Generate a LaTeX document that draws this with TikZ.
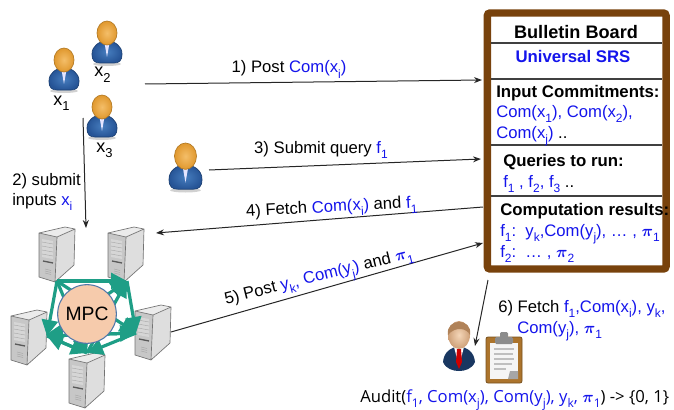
\documentclass[tikz,border=0pt]{standalone}
\usepackage{amsmath,amssymb}
\usepackage{fontspec}
\setmainfont{Liberation Sans}
\newfontfamily\auditfont{Open Sans}
\usetikzlibrary{positioning, arrows.meta, shapes.geometric}

\definecolor{comblue}{RGB}{20,20,235}
\definecolor{boardbrown}{RGB}{120,66,12}
\definecolor{mpcgreen}{RGB}{30,158,134}
\definecolor{mpcpeach}{RGB}{246,203,172}
\definecolor{mpcedge}{RGB}{80,120,170}
\definecolor{suitlight}{RGB}{70,125,190}
\definecolor{suitdark}{RGB}{38,84,150}
\definecolor{headlight}{RGB}{244,190,105}
\definecolor{headdark}{RGB}{224,152,46}
\definecolor{skinlight}{RGB}{244,214,184}
\definecolor{skindark}{RGB}{206,160,120}
\definecolor{hairtan}{RGB}{176,130,88}
\definecolor{clipbrown}{RGB}{172,116,44}

\newcommand{\bl}[1]{\textcolor{comblue}{#1}}
\newcommand{\low}[1]{\raisebox{-.6ex}{\scalebox{.72}{#1}}}
\newcommand{\bpi}{$\boldsymbol{\pi}$}

\tikzset{
  lbl/.style={font=\fontsize{12.5}{14}\selectfont, anchor=base west, inner sep=0pt},
  lblmid/.style={lbl, anchor=base},
  head/.style={lbl, font=\fontsize{12.6}{14}\selectfont\bfseries},
  arr/.style={-{Stealth[length=6pt,width=4.5pt]}, line width=0.75pt, black!85},
  ring/.style={-{Triangle[length=12pt,width=12pt]}, mpcgreen, line width=2.4pt},
  sep/.style={black!75, line width=0.8pt},
  user/.pic={
    \fill[black!18] (15,43) ellipse (14 and 2);
    \path[draw=suitdark!75!black, line width=0.5pt, inner color=suitlight, outer color=suitdark]
      (0,33) .. controls (0,25) and (7,20) .. (15,20) .. controls (23,20) and (30,25) .. (30,33)
      .. controls (30,40) and (27,42) .. (22,42) -- (8,42) .. controls (3,42) and (0,40) .. (0,33) -- cycle;
    \fill[white!90!blue] (12.5,22) -- (17.5,22) -- (15,36) -- cycle;
    \path[draw=headdark!80!black, line width=0.5pt, inner color=headlight, outer color=headdark]
      (15,12) ellipse (10 and 12);
  },
  server/.pic={
    \fill[black!22] (0,6) -- (18,10) -- (16,55) -- (0,50) -- cycle;
    \fill[black!13] (18,10) -- (36,2) -- (35,38) -- (16,55) -- cycle;
    \fill[black!8] (0,6) -- (26,0) -- (36,2) -- (18,10) -- cycle;
    \draw[black!55, line width=0.5pt, line join=round]
      (0,6) -- (26,0) -- (36,2) -- (35,38) -- (16,55) -- (0,50) -- cycle (0,6) -- (18,10) -- (36,2) (18,10) -- (16,55);
    \fill[black!16] (3,12) -- (14,14) -- (14,32) -- (3,30) -- cycle;
    \foreach \yy in {16,20,24,28} \draw[black!35, line width=0.3pt] (3,\yy-1) -- (14,\yy+1);
    \draw[black!65, line width=1pt] (4,34) -- (14,36);
    \foreach \yy in {42,44,46} \draw[black!35, line width=0.3pt] (6,\yy) -- (12,\yy+1.5);
  },
}

\begin{document}
\begin{tikzpicture}[x=0.75pt, y=-0.75pt]
  \useasboundingbox (0,0) rectangle (674,410);

  % Users
  \pic at (49,48) {user};
  \pic at (92,21) {user};
  \pic at (87,95) {user};
  \pic[scale=1.1] at (169,143) {user};
  \node[lbl, font=\fontsize{13.5}{14}\selectfont] (labxa) at (53,105) {x\low{1}};
  \node[lbl, font=\fontsize{13.5}{14}\selectfont] (labxb) at (94,77) {x\low{2}};
  \node[lbl, font=\fontsize{13.5}{14}\selectfont] (labxc) at (96,152) {x\low{3}};

  % Bulletin board
  \node[draw=boardbrown, line width=5.6pt, rounded corners=2pt, minimum width=134pt, minimum height=192pt, inner sep=0pt] (board) at (576.7,141) {};
  \foreach \yy in {43,79,145,196}
    \draw[sep] (491,\yy) -- (662,\yy);
  \node[lblmid, font=\fontsize{13.6}{14}\selectfont\bfseries] (bbtitle) at (576,39) {Bulletin Board};
  \node[lblmid, font=\fontsize{12.6}{14}\selectfont\bfseries] (srs) at (573,63) {\bl{Universal SRS}};
  \node[head] (inputs) at (496,97) {Input Commitments:};
  \node[lbl] (inputsa) at (496,117) {\bl{Com(x\low{1}), Com(x\low{2}),}};
  \node[lbl] (inputsb) at (496,138) {\bl{Com(x\low{j})} ..};
  \node[head] (queries) at (503,166) {Queries to run:};
  \node[lbl] (queriesa) at (503,187) {\bl{f\low{1} , f\low{2}, f\low{3}} ..};
  \node[head] (results) at (500,215) {Computation results:};
  \node[lbl] (resultsa) at (500,236) {\bl{f\low{1}:\ \ y\low{k},Com(y\low{j}), \dots\ , \bpi\low{1}}};
  \node[lbl] (resultsb) at (500,257) {\bl{f\low{2}:\ \ \dots\ , \bpi\low{2}}};

  % Servers and MPC
  \pic at (39,227) {server};
  \pic at (108,227) {server};
  \pic at (135,305) {server};
  \pic at (69,353) {server};
  \pic at (11,310) {server};
  \coordinate (A) at (57,281);
  \coordinate (B) at (127,281);
  \coordinate (C) at (136,333);
  \coordinate (D) at (87,353);
  \coordinate (E) at (47,336);
  \foreach \from/\to in {A/B,A/E,A/C,A/D,B/C,E/B,D/B,E/C,C/D,E/D,D/E,C/E}
    \draw[ring] (\from) -- (\to);
  \node[circle, draw=mpcedge, fill=mpcpeach, line width=0.8pt, minimum size=44pt, inner sep=0pt, font=\fontsize{14.5}{16}\selectfont] (mpc) at (87,314) {MPC};

  % Auditor
  \fill[suitdark!65!black] (443,362) .. controls (444,352) and (450,348) .. (459,346) .. controls (468,348) and (474,352) .. (475,362) .. controls (472,369) and (465,371) .. (459,371) .. controls (453,371) and (446,369) .. (443,362) -- cycle;
  \fill[white] (454,347) -- (464,347) -- (459,366) -- cycle;
  \fill[red!80!black] (457,349) -- (461,349) -- (462,362) -- (459,369) -- (456,362) -- cycle;
  \path[inner color=skinlight, outer color=skindark] (459,335) ellipse (11 and 14);
  \fill[hairtan] (448,335) .. controls (445,318) and (473,317) .. (470,335) .. controls (467,328) and (455,326) .. (448,335) -- cycle;
  \filldraw[fill=clipbrown, draw=clipbrown!70!black, line width=0.6pt, rounded corners=1.5pt] (486,337) rectangle (522,383);
  \fill[black!4] (490,343) rectangle (518,379);
  \fill[black!45, rounded corners=1pt] (495,337) rectangle (513,344);
  \fill[black!45, rounded corners=1pt] (500,332) rectangle (508,338);
  \foreach \yy/\xe in {349/514,354/513,359/514,364/512,369/506}
    \draw[black!25, line width=1pt] (494,\yy) -- (\xe,\yy);
  \fill[black!35] (508,379) -- (518,379) -- (518,371) -- (510,371) -- cycle;

  % Arrows
  \coordinate (usersout) at (145,84);
  \coordinate (boardone) at (482,80);
  \coordinate (querier) at (209,170);
  \coordinate (boardtwo) at (481,159);
  \coordinate (inputfrom) at (83,118);
  \coordinate (inputto) at (86,228);
  \coordinate (boardthree) at (483,207);
  \coordinate (fetchto) at (156,233);
  \coordinate (serverout) at (171,332);
  \coordinate (boardfour) at (483,243);
  \coordinate (boardfive) at (488,280);
  \coordinate (auditto) at (475,346);
  \draw[arr] (usersout) -- (boardone);
  \draw[arr] (querier) -- (boardtwo);
  \draw[arr] (inputfrom) -- (inputto);
  \draw[arr] (boardthree) -- (fetchto);
  \draw[arr] (serverout) -- (boardfour);
  \draw[arr] (boardfive) -- (auditto);

  % Labels
  \node[lblmid] (stepone) at (289,73) {1) Post \bl{Com(x\low{i})}};
  \node[lblmid] (stepthree) at (321,153) {3) Submit query \bl{f\low{1}}};
  \node[lbl] (steptwoa) at (12,185) {2) submit};
  \node[lbl] (steptwob) at (12,205) {inputs \bl{x\low{i}}};
  \node[lblmid, rotate=3] (stepfour) at (332,212) {4) Fetch \bl{Com(x\low{i})} and \bl{f\low{1}}};
  \node[lblmid, rotate=14] (stepfive) at (320,281) {5) Post \bl{y\low{k}, Com(y\low{j})} and \bl{\bpi\low{1}}};
  \node[lbl] (stepsixa) at (498,312) {6) Fetch \bl{f\low{1},Com(x\low{i}), y\low{k},}};
  \node[lbl] (stepsixb) at (517,333) {\bl{Com(y\low{j}), \bpi\low{1}}};
  \node[lbl, font=\auditfont\fontsize{12.5}{14}\selectfont] (audit) at (360,402) {Audit(\bl{f\low{1}, Com(x\low{j}), Com(y\low{j}), y\low{k}, \bpi\low{1}}) -> \{0, 1\}};
\end{tikzpicture}
\end{document}
